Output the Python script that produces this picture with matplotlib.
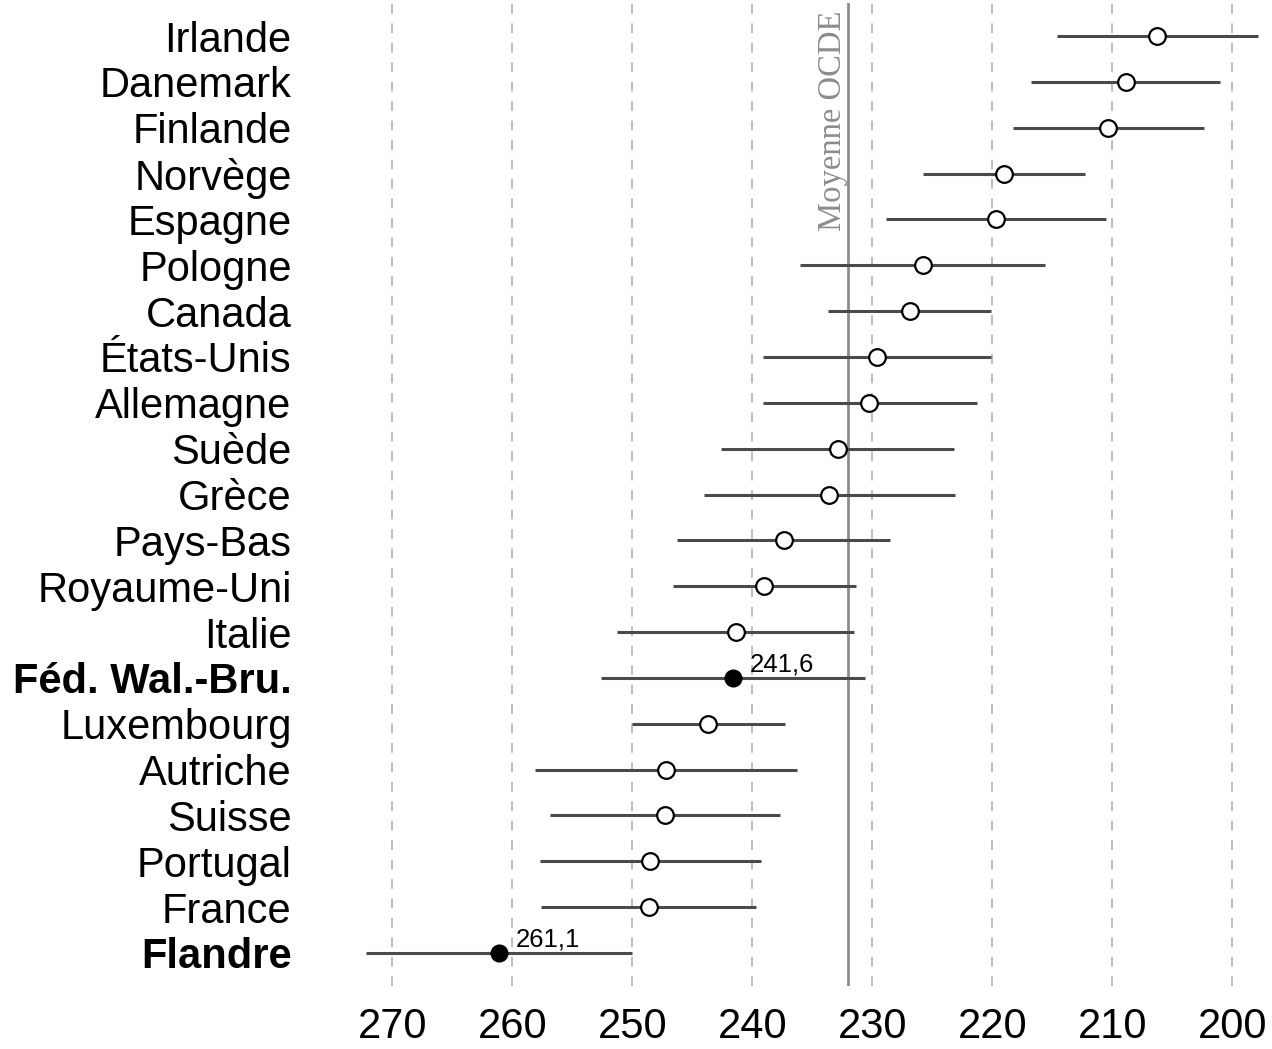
import numpy as np
import matplotlib
matplotlib.use("Agg")
import matplotlib.pyplot as plt

pays = ["Irlande", "Danemark", "Finlande", "Norvège", "Espagne", "Pologne", "Canada",
        "États-Unis", "Allemagne", "Suède", "Grèce", "Pays-Bas", "Royaume-Uni", "Italie",
        "Féd. Wal.-Bru.", "Luxembourg", "Autriche", "Suisse", "Portugal", "France", "Flandre"]
score = [206.3, 208.9, 210.4, 219.0, 219.7, 225.8, 226.9, 229.6, 230.3, 232.9, 233.6,
         237.4, 239.0, 241.4, 241.6, 243.7, 247.2, 247.3, 248.5, 248.6, 261.1]
borne_haut = [214.6, 216.8, 218.3, 225.8, 228.9, 236.0, 233.7, 239.1, 239.1, 242.6, 244.0,
              246.3, 246.6, 251.3, 252.6, 250.0, 258.1, 256.9, 257.7, 257.6, 272.2]
borne_bas = [197.9, 201.0, 202.4, 212.3, 210.5, 215.6, 220.1, 220.1, 221.3, 223.2, 223.1,
             228.5, 231.4, 231.5, 230.6, 237.3, 236.3, 237.7, 239.3, 239.7, 250.0]
mis_en_avant = ["Féd. Wal.-Bru.", "Flandre"]
moyenne_ocde = 232.0
ticks_x = [270, 260, 250, 240, 230, 220, 210, 200]

fig = plt.figure(figsize=(12.72, 10.49), dpi=100)
ax = fig.add_axes([350/1272, 63/1049, 920/1272, 983/1049])

y = np.arange(len(pays))

# grille verticale
for t in ticks_x:
    ax.axvline(t, color="#bdbdbd", lw=1.4, ls=(0, (5, 5)), zorder=0)

# moyenne OCDE
ax.axvline(moyenne_ocde, color="#8c8c8c", lw=2, zorder=1)
ax.text(moyenne_ocde, 0.992, "Moyenne OCDE", transform=ax.get_xaxis_transform(),
        rotation=90, ha="right", va="top", color="#8c8c8c",
        family="Liberation Serif", fontsize=23.5)

# intervalles
ax.hlines(y, borne_haut, borne_bas, color="#4a4a4a", lw=2.2, zorder=2)

for i, p in enumerate(pays):
    if p in mis_en_avant:
        ax.plot(score[i], y[i], "o", ms=12, mfc="black", mec="black", zorder=3)
        ax.annotate(f"{score[i]:.1f}".replace(".", ","), (score[i], y[i]),
                    xytext=(12, 4.5), textcoords="offset points",
                    ha="left", va="baseline", fontsize=18.5, family="Liberation Sans")
    else:
        ax.plot(score[i], y[i], "o", ms=12, mfc="white", mec="black", mew=1.6, zorder=3)

ax.set_xlim(273.525, 196.86)
ax.set_ylim(len(pays) - 1 + 0.72, -0.72)

ax.set_yticks(y)
ax.set_yticklabels(pays, fontsize=30, family="Liberation Sans")
for lab in ax.get_yticklabels():
    if lab.get_text() in mis_en_avant:
        lab.set_fontweight("bold")
ax.set_xticks(ticks_x)
ax.set_xticklabels([str(t) for t in ticks_x], fontsize=30, family="Liberation Sans")
ax.tick_params(axis="y", length=0, pad=42)
ax.tick_params(axis="x", length=0, pad=15)

for s in ax.spines.values():
    s.set_visible(False)

fig.savefig("out.png", dpi=100)
